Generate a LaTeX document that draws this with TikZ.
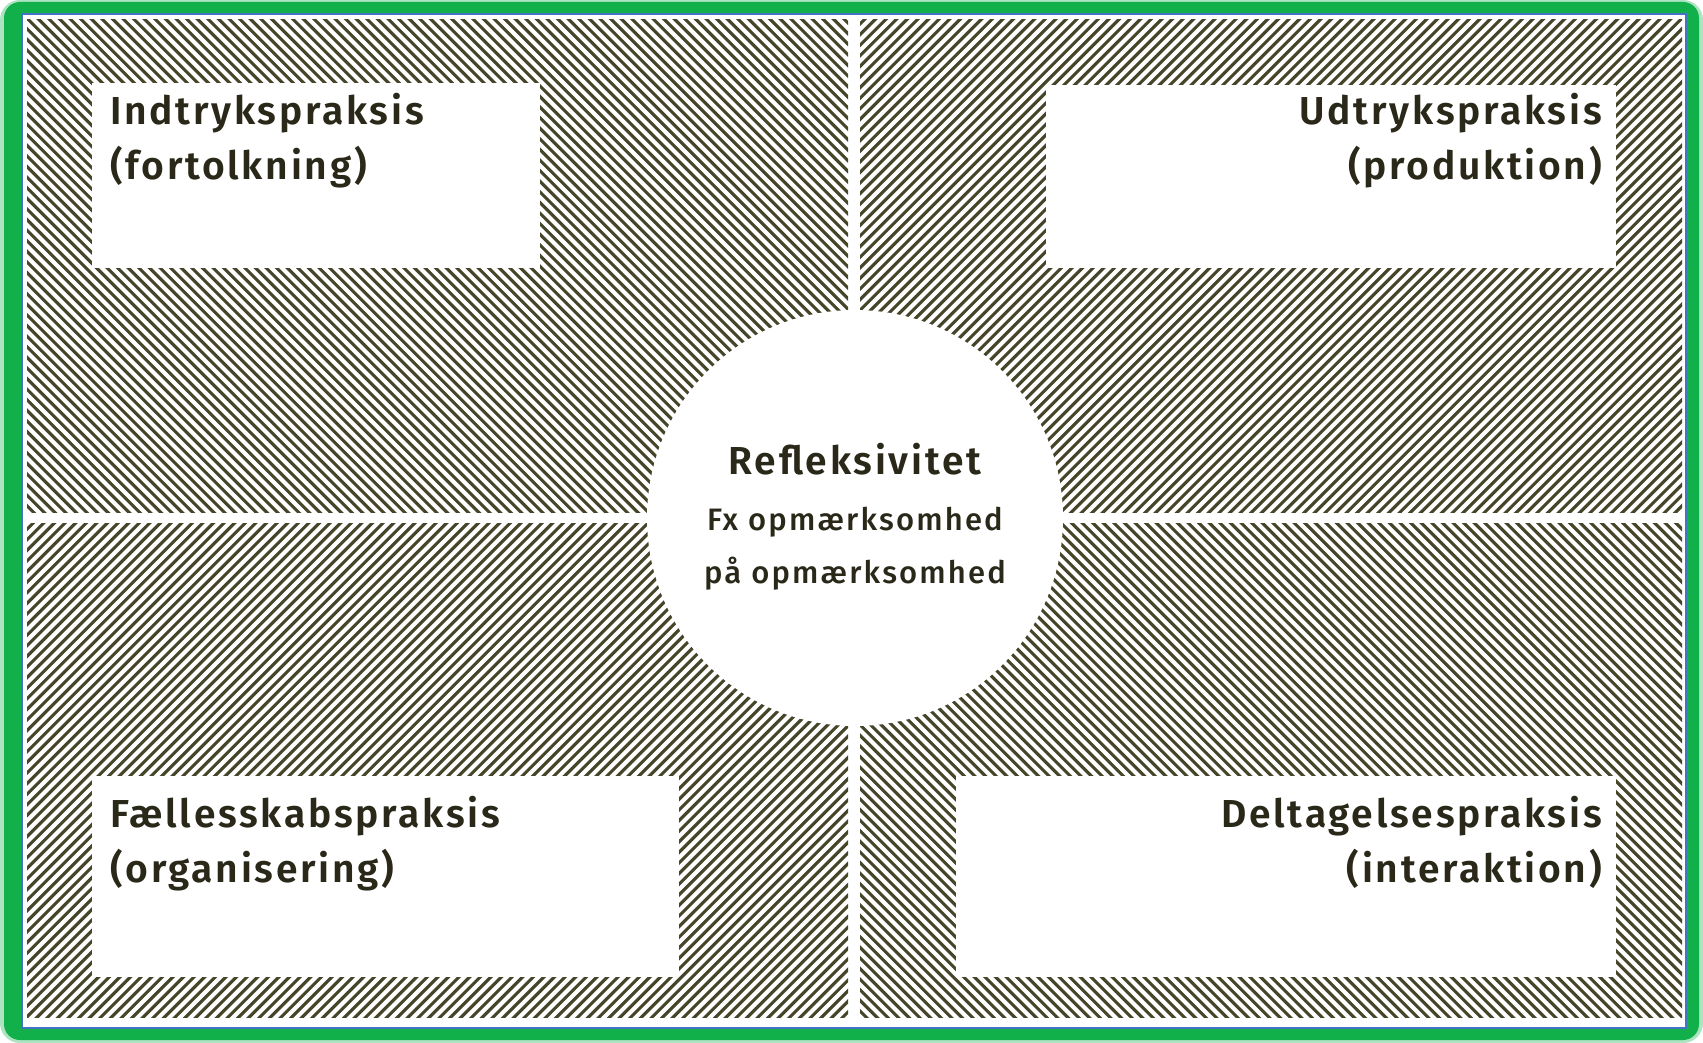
\documentclass[tikz,border=0pt]{standalone}
\usepackage{fontspec}
\setmainfont{Fira Sans}[BoldFont={Fira Sans SemiBold}, LetterSpace=7]
\newfontfamily\medfont{Fira Sans Medium}[LetterSpace=7]
\definecolor{framegreen}{HTML}{12B04A}
\definecolor{bluel}{HTML}{4472C4}
\definecolor{hatchc}{HTML}{46452A}
\definecolor{ink}{HTML}{2A2818}
\begin{document}
\begin{tikzpicture}[x=1pt,y=-1pt,
  hatchline/.style={hatchc, line width=3.1pt},
  title/.style={font=\fontsize{39}{47}\selectfont\bfseries, text=ink, inner sep=0pt},
  ctitle/.style={font=\fontsize{39}{47}\selectfont\bfseries, text=ink, inner sep=0pt},
  csub/.style={font=\fontsize{31}{40}\selectfont\medfont, text=ink, inner sep=0pt},
  whitebox/.style={fill=white, draw=none, inner sep=0pt}]
\useasboundingbox (0,0) rectangle (1703,1043);
\fill[white] (0,0) rectangle (1703,1043);
\fill[framegreen!35, rounded corners=20pt] (0,0) rectangle (1703,1043);
\fill[framegreen, rounded corners=16pt] (4,2) rectangle (1699,1040);
\fill[white] (22,14) rectangle (1686,1028);
\draw[bluel, line width=2pt] (22,14) rectangle (1686,1028);
% top-left quadrant
\begin{scope}
  \clip (27,20) rectangle (848,512);
  \foreach \a in {-500,-489.4,...,850} \draw[hatchline] (\a,0) -- ++(1100,1100);
\end{scope}
% top-right quadrant
\begin{scope}
  \clip (860,20) rectangle (1682,512);
  \foreach \a [evaluate=\a as \c using 1709-\a] in {-500,-489.4,...,850} \draw[hatchline] (\c,0) -- ++(-1100,1100);
\end{scope}
% bottom-left quadrant
\begin{scope}
  \clip (27,523) rectangle (848,1017);
  \foreach \a [evaluate=\a as \c using 1035+\a] in {-500,-489.4,...,850} \draw[hatchline] (\c,0) -- ++(-1100,1100);
\end{scope}
% bottom-right quadrant
\begin{scope}
  \clip (860,523) rectangle (1682,1017);
  \foreach \a [evaluate=\a as \c using 674-\a] in {-500,-489.4,...,850} \draw[hatchline] (\c,0) -- ++(1100,1100);
\end{scope}
% white shapes
\node[whitebox, circle, minimum size=416pt] (centre) at (855,518) {};
\node[whitebox, minimum width=448pt, minimum height=185pt] (tlbox) at (316,175.5) {};
\node[whitebox, minimum width=570pt, minimum height=183pt] (trbox) at (1331,176.5) {};
\node[whitebox, minimum width=587pt, minimum height=201pt] (blbox) at (385.5,876.5) {};
\node[whitebox, minimum width=660pt, minimum height=201pt] (brbox) at (1286,876.5) {};
% texts
\node[title, anchor=base west] (tl1) at (110,125) {Indtrykspraksis};
\node[title, anchor=base west] (tl2) at (110,180) {(fortolkning)};
\node[title, anchor=base east] (tr1) at (1602,125) {Udtrykspraksis};
\node[title, anchor=base east] (tr2) at (1602,180) {(produktion)};
\node[title, anchor=base west] (bl1) at (110,827) {Fællesskabspraksis};
\node[title, anchor=base west] (bl2) at (110,882) {(organisering)};
\node[title, anchor=base east] (br1) at (1602,827) {Deltagelsespraksis};
\node[title, anchor=base east] (br2) at (1602,882) {(interaktion)};
\node[ctitle, anchor=base] (c1) at (855,474) {Refleksivitet};
\node[csub, anchor=base] (c2) at (855,530) {Fx opmærksomhed};
\node[csub, anchor=base] (c3) at (855,583) {på opmærksomhed};
\end{tikzpicture}
\end{document}
